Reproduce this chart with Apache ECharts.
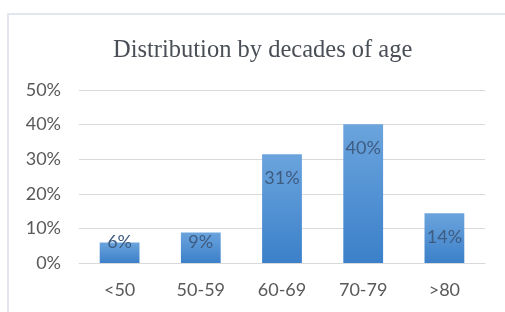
<!DOCTYPE html>
<html>
<head>
<meta charset="utf-8">
<script src="https://cdn.jsdelivr.net/npm/echarts@6/dist/echarts.min.js"></script>
<style>
  html, body { margin: 0; padding: 0; background: #fff; }
  #main { width: 505px; height: 312px; }
</style>
</head>
<body>
<div id="main"></div>
<script>
// categories and values (percent)
var ageGroups = ['<50', '50-59', '60-69', '70-79', '>80'];
var shares = [5.9, 8.8, 31.4, 40.1, 14.4];
var yTicks = [0, 10, 20, 30, 40, 50];

var myChart = echarts.init(document.getElementById('main'));

// short bars get their label pushed to the bottom, like Excel does
var barData = shares.map(function (v) {
    return {
        value: v,
        label: v < 12
            ? { position: 'insideBottom', distance: 12 }
            : { position: 'insideTop', distance: 15 }
    };
});

myChart.setOption({
    backgroundColor: '#ffffff',
    animation: false,
    title: {
        text: 'Distribution by decades of age',
        left: 108,
        top: 33,
        textStyle: {
            fontFamily: '"Liberation Serif", "DejaVu Serif", serif',
            fontSize: 24.5,
            fontWeight: 'normal',
            color: '#4a4f57'
        }
    },
    graphic: [{
        type: 'rect',
        shape: { x: 8, y: 14, width: 510, height: 310 },
        style: { fill: null, stroke: '#e3e6ee', lineWidth: 2 },
        silent: true
    }],
    grid: {
        left: 79,
        right: 20,
        top: 90,
        bottom: 49
    },
    xAxis: {
        type: 'category',
        data: ageGroups,
        axisLine: { show: true, lineStyle: { color: '#d9d9d9' } },
        axisTick: { show: false },
        axisLabel: {
            margin: 18,
            fontFamily: 'Lato, "Open Sans", sans-serif',
            fontSize: 18,
            color: '#595959'
        }
    },
    yAxis: {
        type: 'value',
        min: yTicks[0],
        max: yTicks[yTicks.length - 1],
        interval: 10,
        axisLine: { show: false },
        axisTick: { show: false },
        splitLine: { lineStyle: { color: '#d9d9d9', width: 1 } },
        axisLabel: {
            margin: 18,
            formatter: '{value}%',
            fontFamily: 'Lato, "Open Sans", sans-serif',
            fontSize: 18,
            color: '#595959'
        }
    },
    series: [{
        type: 'bar',
        data: barData,
        barWidth: '49%',
        itemStyle: {
            color: new echarts.graphic.LinearGradient(0, 0, 0, 1, [
                { offset: 0, color: '#6ba4dd' },
                { offset: 1, color: '#3b80c9' }
            ])
        },
        label: {
            show: true,
            formatter: function (p) { return Math.round(p.value) + '%'; },
            fontFamily: 'Lato, "Open Sans", sans-serif',
            fontSize: 18,
            color: '#3e5b80'
        }
    }]
});
</script>
</body>
</html>
